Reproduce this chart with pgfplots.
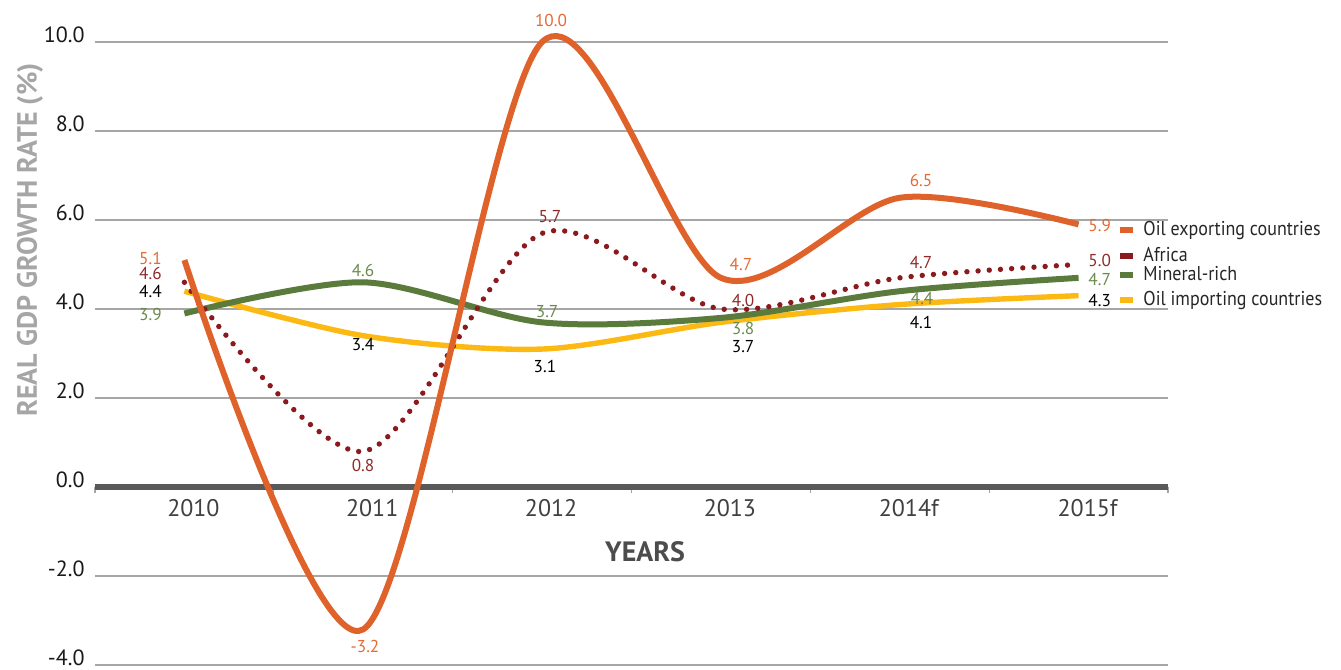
\documentclass[border=0pt]{standalone}
\usepackage{pgfplots}
\pgfplotsset{compat=1.18}
\usepackage{fontspec}
\setmainfont{PT Sans}
\newfontfamily\condfont[FakeStretch=0.9]{PT Sans}
\definecolor{cOil}{HTML}{E0622B}
\definecolor{cOilT}{HTML}{E46A32}
\definecolor{cAfr}{HTML}{8B1A1F}
\definecolor{cAfrT}{HTML}{8E2A2A}
\definecolor{cMin}{HTML}{5B7B3C}
\definecolor{cMinT}{HTML}{6A8A4C}
\definecolor{cImp}{HTML}{FDB913}
\definecolor{cGrid}{HTML}{A6A6A6}
\definecolor{cZero}{HTML}{595959}
\begin{document}
\begin{tikzpicture}
\begin{axis}[
  scale only axis,
  width=536.5pt, height=311.5pt,
  at={(0,0)}, anchor=south west,
  xmin=-0.5, xmax=5.5, ymin=-4, ymax=10,
  clip=false,
  axis x line=middle, axis y line=left,
  hide obscured x ticks=false, hide obscured y ticks=false,
  x axis line style={-, line width=3pt, color=cZero},
  y axis line style={draw=none},
  xtick={0,1,2,3,4,5},
  xticklabels={2010,2011,2012,2013,2014f,2015f},
  minor xtick={-0.5,0.5,1.5,2.5,3.5,4.5,5.5},
  major tick length=0pt,
  minor tick length=3pt,
  tick align=outside,
  minor x tick style={color=cGrid, line width=0.6pt},
  xticklabel style={font=\fontsize{12}{14}\selectfont, text=black!75, inner sep=0pt, anchor=north, xshift=4.5pt, yshift=-6.25pt},
  ytick={-4,-2,0,2,4,6,8,10},
  yticklabel style={font=\fontsize{11}{13}\selectfont, text=black!90, inner sep=0pt, anchor=east, xshift=-5pt, yshift=3.8pt, /pgf/number format/.cd, fixed, fixed zerofill, precision=1},
  /pgf/number format/assume math mode=true,
  ymajorgrids,
  grid style={color=cGrid, line width=0.7pt},
]
% Oil importing countries
\addplot[color=cImp, line width=2.7pt, smooth] coordinates {(0,4.4) (1,3.4) (2,3.1) (3,3.7) (4,4.1) (5,4.3)};
% Mineral-rich
\addplot[color=cMin, line width=3pt, smooth] coordinates {(0,3.9) (1,4.6) (2,3.7) (3,3.8) (4,4.4) (5,4.7)};
% Africa
\addplot[color=cAfr, line width=2.7pt, line cap=round, dash pattern=on 0pt off 5.6pt, smooth] coordinates {(0,4.6) (1,0.8) (2,5.7) (3,4.0) (4,4.7) (5,5.0)};
% Oil exporting countries
\addplot[color=cOil, line width=3pt, smooth] coordinates {(0,5.1) (1,-3.2) (2,10.0) (3,4.7) (4,6.5) (5,5.9)};

% data labels
\begin{scope}[every node/.style={font=\fontsize{8.6}{10}\selectfont, inner sep=0pt}]
% oil exporting
\node[text=cOilT, anchor=east] at (axis cs:-0.125,5.146) {5.1};
\node[text=cOilT] at (axis cs:1.010,-3.573) {-3.2};
\node[text=cOilT] at (axis cs:2.050,10.494) {10.0};
\node[text=cOilT] at (axis cs:3.112,5.011) {4.7};
\node[text=cOilT] at (axis cs:4.119,6.899) {6.5};
\node[text=cOilT, anchor=west] at (axis cs:5.053,5.888) {5.9};
% Africa
\node[text=cAfrT, anchor=east] at (axis cs:-0.125,4.787) {4.6};
\node[text=cAfrT] at (axis cs:0.999,0.494) {0.8};
\node[text=cAfrT] at (axis cs:2.044,6.067) {5.7};
\node[text=cAfrT] at (axis cs:3.124,4.202) {4.0};
\node[text=cAfrT] at (axis cs:4.119,5.056) {4.7};
\node[text=cAfrT, anchor=west] at (axis cs:5.053,5.101) {5.0};
% Mineral-rich
\node[text=cMinT, anchor=east] at (axis cs:-0.125,3.888) {3.9};
\node[text=cMinT] at (axis cs:0.999,4.876) {4.6};
\node[text=cMinT] at (axis cs:2.028,3.933) {3.7};
\node[text=cMinT] at (axis cs:3.124,3.573) {3.8};
\node[text=cMinT] at (axis cs:4.125,4.247) {4.4};
\node[text=cMinT, anchor=west] at (axis cs:5.053,4.652) {4.7};
% Oil importing
\node[text=black, anchor=east] at (axis cs:-0.125,4.404) {4.4};
\node[text=black] at (axis cs:0.999,3.213) {3.4};
\node[text=black] at (axis cs:2.016,2.719) {3.1};
\node[text=black] at (axis cs:3.124,3.146) {3.7};
\node[text=black] at (axis cs:4.119,3.708) {4.1};
\node[text=black, anchor=west] at (axis cs:5.053,4.202) {4.3};
\end{scope}

% legend
\begin{scope}[every node/.style={font=\condfont\fontsize{10}{12}\selectfont, inner sep=0pt, anchor=base west, text=black!85}]
\node at (axis cs:5.232,5.65) {\textcolor{cOil}{\rule[1.3pt]{6.5pt}{3pt}}\hspace{5pt}Oil exporting countries};
\node at (axis cs:5.232,5.06) {\textcolor{cAfr}{\rule[1.3pt]{6.5pt}{3pt}}\hspace{5pt}Africa};
\node at (axis cs:5.232,4.63) {\textcolor{cMin}{\rule[1.3pt]{6.5pt}{3pt}}\hspace{5pt}Mineral-rich};
\node at (axis cs:5.232,4.07) {\textcolor{cImp}{\rule[1.3pt]{6.5pt}{3pt}}\hspace{5pt}Oil importing countries};
\end{scope}

% axis titles
\node[rotate=90, font=\bfseries\fontsize{14}{16}\selectfont, text=cGrid, inner sep=0pt] at (axis cs:-0.8635,5.551) {REAL GDP GROWTH RATE (\%)};
\node[font=\bfseries\fontsize{14}{16}\selectfont, text=black!70, inner sep=0pt] at (axis cs:2.576,-1.461) {YEARS};
\end{axis}
\pgfresetboundingbox
\path[use as bounding box] (-47.5pt,-2.5pt) rectangle (623pt,332.5pt);
\end{tikzpicture}
\end{document}
